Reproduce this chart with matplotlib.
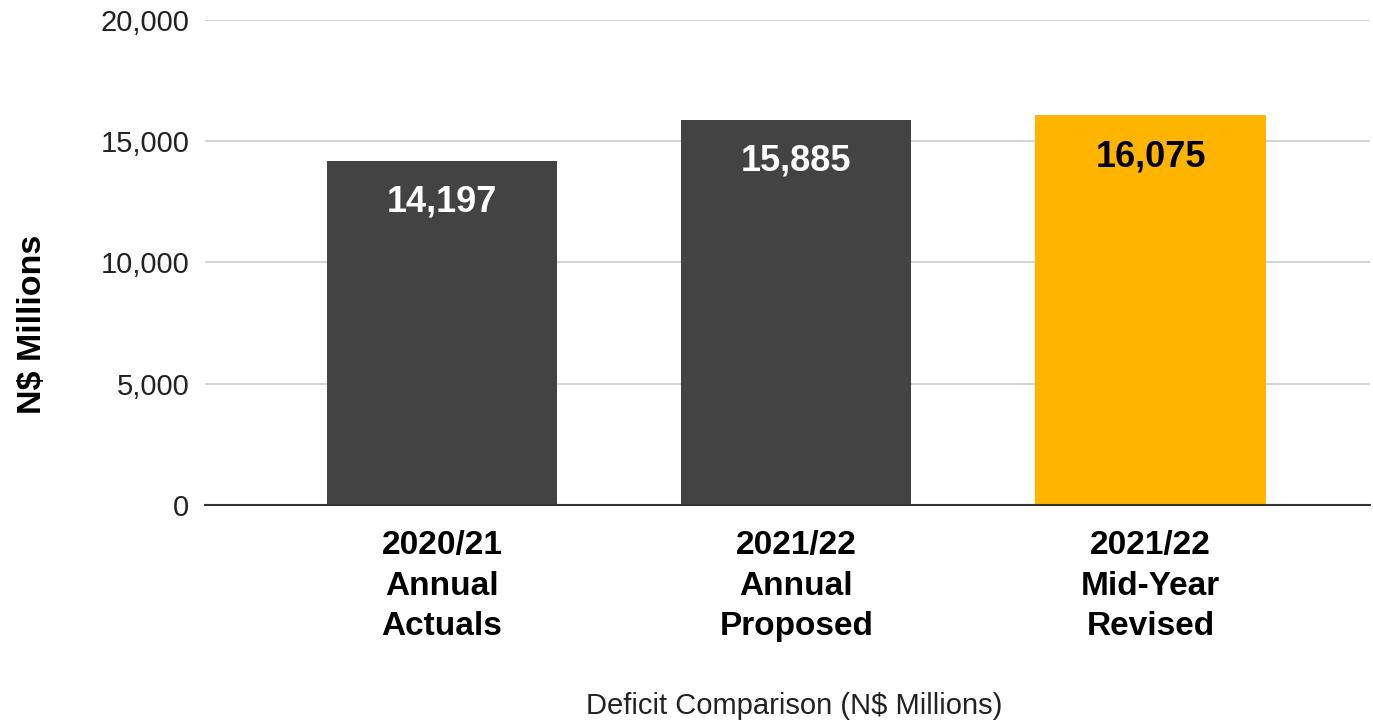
import matplotlib.pyplot as plt

plt.rcParams['font.family'] = ['Liberation Sans', 'DejaVu Sans']

categories = ['2020/21\nAnnual\nActuals', '2021/22\nAnnual\nProposed', '2021/22\nMid-Year\nRevised']
values = [14197, 15885, 16075]
bar_colors = ['#434343', '#434343', '#ffb400']
label_colors = ['white', 'white', 'black']
yticks = [0, 5000, 10000, 15000, 20000]

fig = plt.figure(figsize=(13.73, 7.21), dpi=100)
ax = fig.add_axes([0.149, 0.2996, 0.849, 0.6727])

x = range(len(categories))
bars = ax.bar(x, values, width=0.65, color=bar_colors, zorder=3)

# value labels sit inside the top of each bar
for b, v, c in zip(bars, values, label_colors):
    ax.annotate(f'{v:,}', (b.get_x() + b.get_width() / 2, v), xytext=(0, -27),
                textcoords='offset points', ha='center', va='center_baseline',
                fontsize=26, fontweight='bold', color=c, zorder=4)

ax.set_xlim(-0.67, 2.62)
ax.set_ylim(0, 20000)
ax.set_yticks(yticks)
ax.set_yticklabels([f'{t:,}' for t in yticks], fontsize=21, color='#222222')
ax.set_xticks(list(x))
ax.set_xticklabels(categories, fontsize=24, fontweight='bold', linespacing=1.4)
ax.tick_params(axis='both', length=0)
ax.tick_params(axis='y', pad=11)
ax.tick_params(axis='x', pad=18)

ax.grid(axis='y', color='#cccccc', linewidth=1.2, zorder=0)
for s in ['top', 'right', 'left']:
    ax.spines[s].set_visible(False)
ax.spines['bottom'].set_color('#333333')
ax.spines['bottom'].set_linewidth(1.5)
ax.spines['bottom'].set_zorder(5)

ax.set_ylabel('N$ Millions', fontsize=24.5, fontweight='bold')
ax.yaxis.label.set_va('center')
ax.yaxis.set_label_coords(-0.148, 0.373)
ax.set_xlabel('Deficit Comparison (N$ Millions)', fontsize=21, color='#222222')
ax.xaxis.label.set_va('center')
ax.xaxis.set_label_coords(0.506, -0.414)

fig.savefig('out.png', dpi=100)
